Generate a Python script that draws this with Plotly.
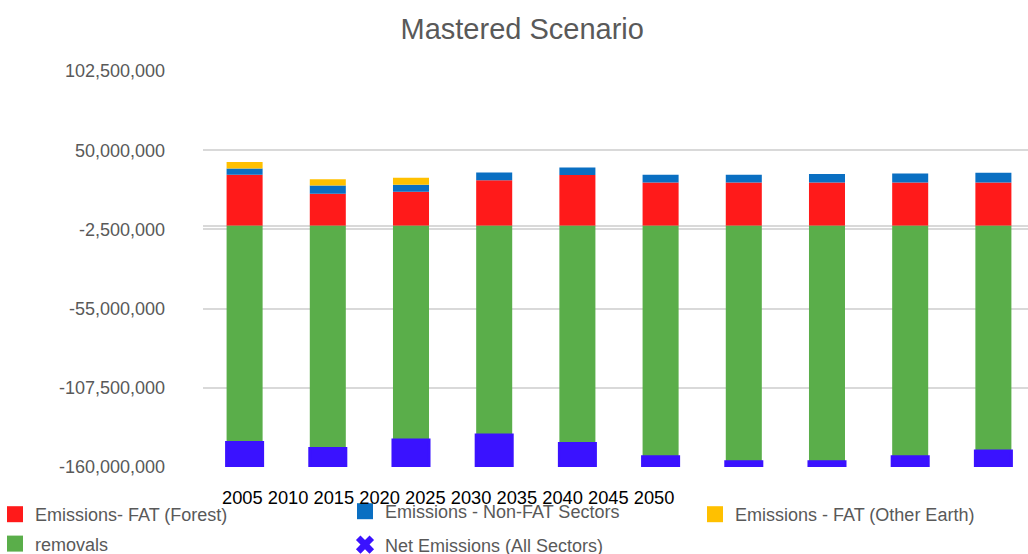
import plotly.graph_objects as go

years = ["2005", "2010", "2015", "2020", "2025", "2030", "2035", "2040", "2045", "2050"]
fat_forest = [33.7e6, 21.1e6, 22.5e6, 30.0e6, 33.5e6, 28.6e6, 28.6e6, 28.6e6, 28.6e6, 28.6e6]
non_fat = [4.2e6, 5.5e6, 4.6e6, 5.3e6, 5.0e6, 5.1e6, 5.1e6, 5.6e6, 6.0e6, 6.4e6]
fat_other = [4.2e6, 4.2e6, 4.6e6, 0, 0, 0, 0, 0, 0, 0]
removals = [-143.7e6, -147.7e6, -142.1e6, -138.8e6, -144.4e6, -153.2e6, -156.5e6, -156.5e6, -153.2e6, -149.4e6]
net_emissions = [-101.6e6, -116.9e6, -110.4e6, -103.5e6, -105.9e6, -119.5e6, -122.8e6, -122.3e6, -118.6e6, -114.4e6]

y_ticks = [-160000000, -107500000, -55000000, -2500000, 50000000, 102500000]
y_tick_text = ["-160,000,000", "-107,500,000", "-55,000,000", "-2,500,000", "50,000,000", "102,500,000"]

FONT = "Liberation Sans, Arial, sans-serif"
GRAY = "#595959"
W, H = 1028, 554
ML, MR, MT, MB = 203, 0, 71, 87
PW, PH = W - ML - MR, H - MT - MB

# name, values, colour, legend symbol, legend id
series = [
    ("Emissions- FAT (Forest)", fat_forest, "#FF1A1A", "square", "legend"),
    ("Emissions - Non-FAT Sectors", non_fat, "#0A6FC2", "square", "legend2"),
    ("Emissions - FAT (Other Earth)", fat_other, "#FFC000", "square", "legend3"),
    ("removals", removals, "#5AAE4A", "square", "legend"),
    ("Net Emissions (All Sectors)", net_emissions, "#3A12FF", "x", "legend2"),
]

fig = go.Figure()
xi = list(range(len(years)))
for name, vals, color, sym, lg in series:
    lw = 3 if sym == "x" else 0
    fig.add_trace(go.Bar(x=xi, y=vals, name=name, marker=dict(color=color, line=dict(color=color, width=lw)),
                         showlegend=False, hoverinfo="y+name"))
for name, vals, color, sym, lg in series:
    fig.add_trace(go.Scatter(x=[None], y=[None], mode="markers", name=name, legend=lg, legendgroup=name,
                             marker=dict(symbol=sym, size=17, color=color), showlegend=True))

def leg(xpx, ytop, gap):
    return dict(orientation="v", x=(xpx - ML) / PW, xref="paper", xanchor="left",
                y=(H - MB - ytop) / PH, yref="paper", yanchor="top", tracegroupgap=gap,
                font=dict(size=18, color=GRAY, family=FONT), itemsizing="trace",
                bgcolor="rgba(0,0,0,0)")

fig.update_layout(
    width=W, height=H,
    margin=dict(l=ML, r=MR, t=MT, b=MB, autoexpand=False),
    barmode="relative",
    bargap=0.567,
    plot_bgcolor="white", paper_bgcolor="white",
    font=dict(family=FONT, size=18, color=GRAY),
    title=dict(text="Mastered Scenario", x=0.508, xref="container", xanchor="center",
               y=1 - 29 / H, yref="container", yanchor="middle",
               font=dict(size=29, color=GRAY, family=FONT)),
    legend=leg(-5, 496, 3),
    legend2=leg(345, 493, 7),
    legend3=leg(695, 496, 3),
)
fig.update_xaxes(range=[-0.5, 9.416], showticklabels=False, showgrid=False, zeroline=False,
                 showline=False, ticks="", fixedrange=True)
fig.update_yaxes(range=[-160000000, 102500000], tickvals=y_ticks, ticktext=y_tick_text,
                 showgrid=True, gridcolor="#d9d9d9", gridwidth=2,
                 zeroline=True, zerolinecolor="#d9d9d9", zerolinewidth=2,
                 ticks="", ticklabelstandoff=37, tickfont=dict(size=18, color=GRAY, family=FONT))

fig.add_annotation(text=" ".join(years), xref="paper", yref="paper", x=(220 - ML) / PW, xanchor="left",
                   y=(H - MB - 497.5) / PH, yanchor="middle", showarrow=False,
                   font=dict(size=18.3, color="black", family=FONT))

fig.write_html("out.html")
